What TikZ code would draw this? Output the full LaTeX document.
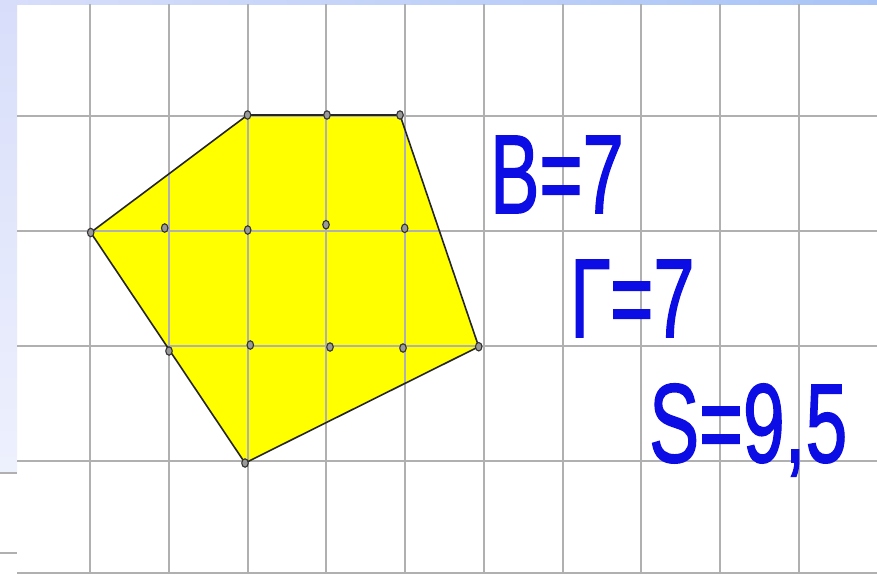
\documentclass[tikz,border=0pt]{standalone}
\usepackage{fontspec}
\setmainfont{Liberation Sans}
\newfontfamily\formshrift[FakeBold=1.6]{Liberation Sans}
\usepackage{tikz}
\usetikzlibrary{shapes.geometric}
\definecolor{setka}{RGB}{176,176,176}
\definecolor{zhelt}{RGB}{255,255,0}
\definecolor{sinij}{RGB}{12,12,228}
\definecolor{fonl}{RGB}{216,222,250}
\definecolor{fonv}{RGB}{168,196,246}
\tikzset{
  linija/.style={draw=setka, line width=2pt},
  mnog/.style={fill=zhelt},
  kontur/.style={draw=black!85, line width=1.6pt, line join=round},
  tochka/.style={ellipse, draw=black!80, fill=black!40, line width=1.1pt,
    minimum width=6.5pt, minimum height=8.5pt, inner sep=0pt},
  formula/.style={anchor=base west, inner sep=0pt, xscale=0.66,
    text=sinij, font=\formshrift\fontsize{112}{112}\selectfont}
}

\begin{document}
\begin{tikzpicture}[x=1pt, y=-1pt]
  \useasboundingbox (0,0) rectangle (877,574);
  \fill[white] (0,0) rectangle (877,574);
  \shade[top color=fonl, bottom color=fonl!45] (0,0) rectangle (17,473);
  \shade[left color=fonl, right color=fonv] (0,0) rectangle (877,4);
  \draw[linija] (0,473) -- (17,473);
  \draw[linija] (0,553) -- (17,553);
  \coordinate (a) at (90.7,232.5);
  \coordinate (b) at (247.5,115);
  \coordinate (c) at (400,115);
  \coordinate (d) at (478.7,346.7);
  \coordinate (e) at (245,463);
  \fill[mnog] (a) -- (b) -- (c) -- (d) -- (e) -- cycle;
  \foreach \i in {0,...,9}
    \draw[linija] (90+78.75*\i,4) -- (90+78.75*\i,574);
  \foreach \j in {116,231,346,461,573}
    \draw[linija] (17,\j) -- (877,\j);
  \draw[kontur] (a) -- (b) -- (c) -- (d) -- (e) -- cycle;
  \foreach \p/\q [count=\k] in {90.7/232.5, 247.5/115, 327/115, 400/115,
      478.7/346.7, 245/463, 169/351, 164.7/228, 247.7/230, 326/224.7,
      404.7/228.3, 250.3/345, 330/347, 403/348}
    \node[tochka] (t\k) at (\p,\q) {};
  \node[formula] (vnutr) at (490,213) {В=7};
  \node[formula] (gran) at (570,337) {Г=7};
  \node[formula, xscale=1.015] (plosh) at (649,462) {S=9,5};
\end{tikzpicture}
\end{document}
